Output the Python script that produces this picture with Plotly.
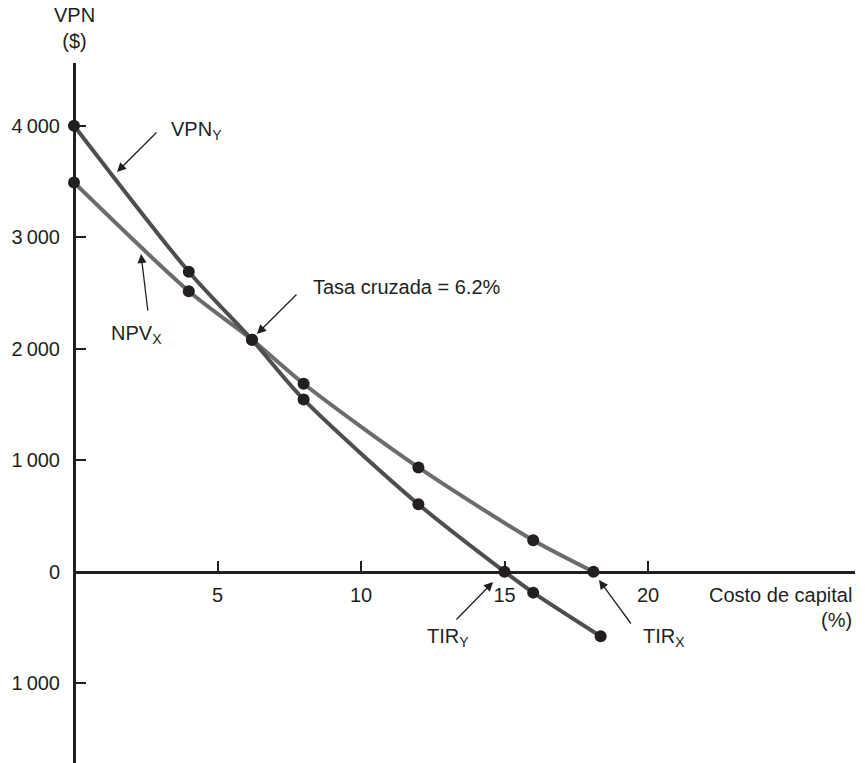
import plotly.graph_objects as go

# ---- data ----
rate_y = [0, 4, 6.2, 8, 12, 15, 16, 18.35]
npv_y = [4000, 2690, 2080, 1545, 605, 0, -188, -580]

rate_x = [0, 4, 6.2, 8, 12, 16, 18.1]
npv_x = [3490, 2515, 2080, 1685, 935, 282, 0]

y_tickvals = [-1000, 0, 1000, 2000, 3000, 4000]
y_ticktext = ["1\u2009000", "0", "1\u2009000", "2\u2009000", "3\u2009000", "4\u2009000"]
x_tickvals = [5, 10, 15, 20]
x_ticktext = ["5", "10", "15", "20"]

# ---- layout geometry ----
W, H = 865, 763
ML, MR, MT, MB = 74, 10, 63, 0
PW, PH = W - ML - MR, H - MT - MB
XMAX = PW / 28.7
YMIN, YMAX = -1716, 4562

INK = "#231f20"
FONT = "Liberation Sans"
FS = 20


def px(xp):
    return (xp - ML) / PW


def py(yp):
    return (H - MB - yp) / PH


fig = go.Figure()
fig.add_trace(go.Scatter(
    x=rate_x, y=npv_x, mode="lines+markers",
    line=dict(color="#6b6c6e", width=4, shape="spline", smoothing=0.8),
    marker=dict(color=INK, size=12), cliponaxis=False, showlegend=False,
    hoverinfo="skip"))
fig.add_trace(go.Scatter(
    x=rate_y, y=npv_y, mode="lines+markers",
    line=dict(color="#4e4e50", width=4, shape="spline", smoothing=0.8),
    marker=dict(color=INK, size=12), cliponaxis=False, showlegend=False,
    hoverinfo="skip"))

annotations = []


def text(s, xp, yp, xanchor="left", yanchor="middle", align="left"):
    annotations.append(dict(
        text=s, x=px(xp), y=py(yp), xref="paper", yref="paper",
        xanchor=xanchor, yanchor=yanchor, align=align, showarrow=False,
        font=dict(family=FONT, size=FS, color=INK)))


def arrow(tail, tip):
    annotations.append(dict(
        text="", x=px(tip[0]), y=py(tip[1]), xref="paper", yref="paper",
        ax=tail[0] - tip[0], ay=tail[1] - tip[1], axref="pixel", ayref="pixel",
        showarrow=True, arrowhead=2, arrowsize=1.4, arrowwidth=1.3,
        arrowcolor=INK, standoff=0, startstandoff=0))


text("VPN<br>($)", 74, 28, xanchor="center", align="center")
text("VPN<sub>Y</sub>", 169, 130)
arrow((158, 131), (117, 172))
text("NPV<sub>X</sub>", 109, 334)
arrow((148, 312), (141, 254))
text("Tasa cruzada = 6.2%", 311, 287)
arrow((298, 293), (257, 334))
text("TIR<sub>Y</sub>", 425, 637)
arrow((455, 621), (493, 582))
text("TIR<sub>X</sub>", 641, 637)
arrow((632, 625), (599, 580))
text("Costo de capital", 854, 595, xanchor="right", align="right")
text("(%)", 854, 620, xanchor="right", align="right")

fig.update_layout(
    width=W, height=H,
    margin=dict(l=ML, r=MR, t=MT, b=MB, autoexpand=False),
    paper_bgcolor="white", plot_bgcolor="white",
    font=dict(family=FONT, size=FS, color=INK),
    annotations=annotations,
    hovermode=False,
    xaxis=dict(
        range=[0, XMAX], anchor="free", position=(0 - YMIN) / (YMAX - YMIN),
        showline=True, linecolor=INK, linewidth=3, showgrid=False, zeroline=False,
        ticks="inside", ticklen=10, tickwidth=1.5, tickcolor=INK,
        tickvals=x_tickvals, ticktext=x_ticktext, ticklabelstandoff=4,
        tickfont=dict(family=FONT, size=FS, color=INK), automargin=False),
    yaxis=dict(
        range=[YMIN, YMAX], anchor="free", position=0,
        showline=True, linecolor=INK, linewidth=3, showgrid=False, zeroline=False,
        ticks="inside", ticklen=10, tickwidth=1.5, tickcolor=INK,
        tickvals=y_tickvals, ticktext=y_ticktext, ticklabelstandoff=9,
        tickfont=dict(family=FONT, size=FS, color=INK), automargin=False),
)

fig.write_html(
    "out.html",
    config={"displayModeBar": False},
    post_script="document.body.style.margin='0';document.body.style.padding='0';",
)
